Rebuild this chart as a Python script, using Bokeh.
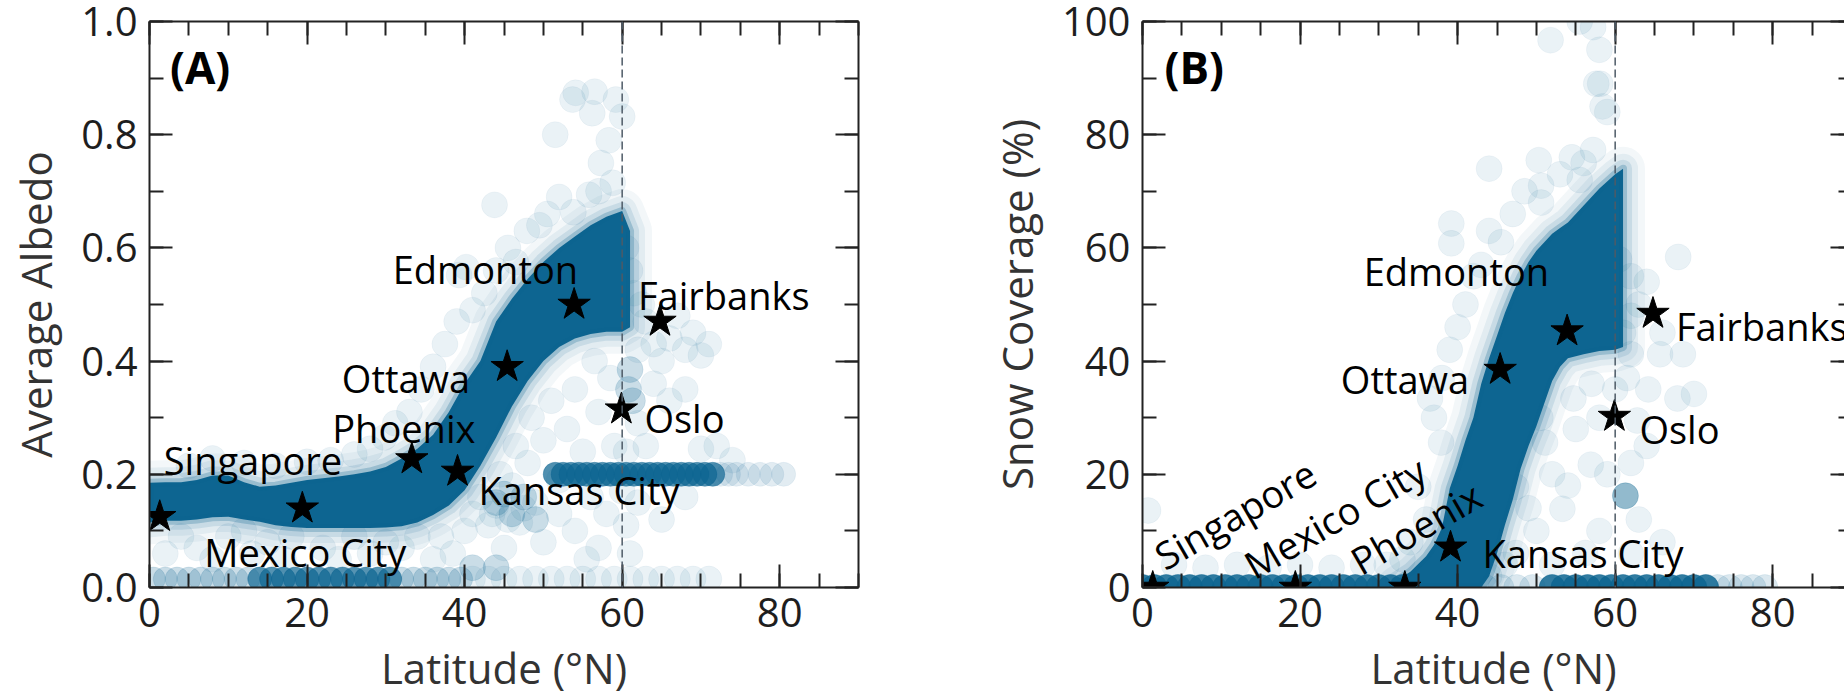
import math
from bokeh.plotting import figure
from bokeh.layouts import row
from bokeh.models import (LinearAxis, SingleIntervalTicker, Span, Label, Range1d,
                          NumeralTickFormatter, CustomJSTickFormatter)
from bokeh.embed import file_html
from bokeh.resources import INLINE

# ---------------------------------------------------------------- data
cities = ["Singapore", "Mexico City", "Phoenix", "Kansas City",
          "Ottawa", "Edmonton", "Oslo", "Fairbanks"]
city_lat = [1.3, 19.4, 33.3, 39.1, 45.4, 53.9, 59.9, 64.8]
city_albedo = [0.125, 0.14, 0.227, 0.205, 0.39, 0.50, 0.315, 0.47]
city_snow = [0.0, 0.0, 0.0, 7.1, 38.5, 45.3, 30.2, 48.4]

# (A) dense core of the albedo cloud: lower / upper edge by latitude
alb_band_lat = [0, 2, 4, 6, 8, 10, 12, 14, 16, 18, 20, 22, 24, 26, 28, 30,
                32, 34, 36, 38, 40, 42, 44, 46, 48, 50, 52, 54, 56, 58, 60, 61]
alb_band_lo = [0.115, 0.118, 0.118, 0.12, 0.124, 0.125, 0.12, 0.116, 0.11, 0.107,
               0.105, 0.105, 0.105, 0.105, 0.105, 0.106, 0.108, 0.115, 0.128, 0.145,
               0.172, 0.215, 0.265, 0.32, 0.365, 0.40, 0.425, 0.44, 0.448, 0.452,
               0.452, 0.46]
alb_band_hi = [0.185, 0.186, 0.186, 0.19, 0.198, 0.198, 0.186, 0.178, 0.18, 0.185,
               0.19, 0.193, 0.196, 0.20, 0.205, 0.213, 0.228, 0.245, 0.27, 0.31,
               0.36, 0.40, 0.47, 0.51, 0.545, 0.575, 0.60, 0.62, 0.64, 0.655,
               0.665, 0.63]

# (A) flat cluster of sites near albedo 0.2 north of 50N
alb_strip_lat = [51.5, 52.5, 53.5, 54.5, 55.5, 56.5, 57.5, 58.5, 59.5, 60.5, 61.5,
                 62.5, 63.5, 64.5, 65.5, 66.5, 67.5, 68.5, 69.5, 70.5, 71.5]
alb_strip_val = [0.20, 0.20, 0.20, 0.20, 0.20, 0.20, 0.20, 0.20, 0.20, 0.20, 0.20,
                 0.20, 0.20, 0.20, 0.20, 0.20, 0.20, 0.20, 0.20, 0.20, 0.20]
alb_tail_lat = [72.5, 73.5, 74.5, 76.0, 77.5, 79.0, 80.5]
alb_tail_val = [0.20, 0.20, 0.20, 0.20, 0.20, 0.20, 0.20]

# (A) sites with near-zero albedo
alb_floor_dense_lat = [14, 15.5, 17, 18.5, 20, 21.5, 23, 24.5, 26, 27.5, 29, 30.5]
alb_floor_dense_val = [0.015, 0.015, 0.015, 0.015, 0.015, 0.015, 0.015, 0.015,
                       0.015, 0.015, 0.015, 0.015]
alb_floor_lat = [0.5, 2, 3.5, 5, 6.5, 8, 9.5, 11, 12.5, 32, 33.5, 35, 36.5, 38, 39.5]
alb_floor_val = [0.015, 0.015, 0.015, 0.015, 0.015, 0.015, 0.015, 0.015, 0.015,
                 0.015, 0.015, 0.015, 0.015, 0.015, 0.015]

# (A) scattered individual sites
alb_sparse_lat = [54.1, 56.5, 59.2, 56.2, 51.5, 58.3, 57.3, 60.0, 53.7,
                  43.8, 39.3, 40.2, 49.5, 50.5, 47.9, 53.8, 55.8, 57.0, 58.8, 52.0,
                  45.5, 46.5, 44.0, 42.5, 41.0, 39.0, 37.5, 36.0, 34.5, 33.0, 31.2,
                  29.8, 28.0, 26.0, 23.0, 20.0, 16.0, 12.0, 8.0, 5.0,
                  60.5, 61.0, 61.5, 62.5,
                  37.0, 38.5, 40.0, 41.0, 42.0, 43.0, 44.0, 44.5, 45.0, 46.0, 46.5,
                  47.0, 48.0, 48.5, 49.0, 50.0, 50.0, 51.0, 52.0, 52.0, 53.0, 54.0,
                  54.0, 55.0, 56.0, 56.5, 57.0, 57.0, 58.0, 58.5, 59.0, 60.0, 60.5,
                  61.0, 43.5, 45.5, 47.5, 55.5,
                  62.0, 63.0, 64.0, 65.0, 66.0, 67.0, 68.0, 69.0, 70.0, 71.0, 64.0,
                  66.0, 68.0, 62.0, 63.0, 62.0, 65.0, 68.0, 70.0, 72.0, 74.0, 60.5,
                  2, 4, 6, 8, 10, 12, 13, 15, 17, 18, 22, 24, 26, 28, 30, 32, 34, 36,
                  41, 43, 45, 47, 49, 51, 53, 55, 57, 59, 61, 63, 65, 67, 69, 71]
alb_sparse_val = [0.874, 0.876, 0.862, 0.838, 0.800, 0.790, 0.750, 0.832, 0.862,
                  0.676, 0.552, 0.566, 0.640, 0.660, 0.630, 0.663, 0.694, 0.700,
                  0.715, 0.690, 0.600, 0.575, 0.560, 0.520, 0.490, 0.470, 0.430,
                  0.390, 0.350, 0.310, 0.290, 0.265, 0.245, 0.235, 0.225, 0.222,
                  0.215, 0.220, 0.228, 0.215,
                  0.600, 0.560, 0.520, 0.500,
                  0.090, 0.060, 0.100, 0.130, 0.160, 0.110, 0.145, 0.200, 0.070,
                  0.180, 0.250, 0.115, 0.220, 0.300, 0.150, 0.080, 0.260, 0.330,
                  0.130, 0.190, 0.280, 0.350, 0.100, 0.240, 0.160, 0.400, 0.070,
                  0.310, 0.130, 0.370, 0.250, 0.170, 0.110, 0.060, 0.130, 0.120,
                  0.140, 0.050,
                  0.420, 0.470, 0.430, 0.400, 0.440, 0.480, 0.420, 0.450, 0.410,
                  0.430, 0.360, 0.330, 0.350, 0.290, 0.250, 0.150, 0.120, 0.160,
                  0.245, 0.250, 0.225, 0.240,
                  0.06, 0.09, 0.07, 0.05, 0.09, 0.10, 0.06, 0.08, 0.05, 0.09, 0.07,
                  0.05, 0.09, 0.06, 0.08, 0.07, 0.09, 0.05,
                  0.015, 0.015, 0.015, 0.015, 0.015, 0.015, 0.015, 0.015, 0.015,
                  0.015, 0.015, 0.015, 0.015, 0.015, 0.015, 0.015]
alb_mid_lat = [61.0, 60.8, 61.3, 44.0, 46.0, 45.0, 47.5, 49.0, 41.0, 44.0]
alb_mid_val = [0.385, 0.350, 0.330, 0.150, 0.130, 0.165, 0.160, 0.120, 0.035, 0.035]

# (B) dense core of the snow-coverage cloud
snow_band_lat = [32, 34, 36, 37, 38, 39, 40, 41, 42, 43, 44, 45, 46, 47, 48, 49,
                 50, 51, 52, 53, 54, 56, 58, 60, 61]
snow_band_lo = [0, 0, 0, 0, 0, 0, 0, 0, 0, 0, 2.0, 6.0, 11.0, 15.5, 21.0, 25.0,
                28.5, 32.5, 36.5, 39.0, 40.5, 41.2, 41.8, 42.0, 42.5]
snow_band_hi = [1.0, 2.8, 5.5, 7.5, 10.5, 17.5, 21.5, 26.0, 30.0, 36.0, 40.5, 44.5,
                48.5, 52.0, 55.0, 57.5, 59.5, 61.0, 62.5, 63.5, 64.5, 67.5, 70.5,
                73.0, 74.0]

# (B) snow-free sites
snow_floor_dense_lat = [0, 1.5, 3, 4.5, 6, 7.5, 9, 10.5, 12, 13.5, 15, 16.5, 18,
                        19.5, 21, 22.5, 24, 25.5, 27, 28.5, 30, 31.5, 33, 34.5, 36,
                        37.5, 52, 53.5, 55, 56.5, 58, 59.5, 61, 62.5, 64, 65.5, 67,
                        68.5, 70, 71.5]
snow_floor_dense_val = [0, 0, 0, 0, 0, 0, 0, 0, 0, 0, 0, 0, 0, 0, 0, 0, 0, 0, 0,
                        0, 0, 0, 0, 0, 0, 0, 0, 0, 0, 0, 0, 0, 0, 0, 0, 0, 0, 0,
                        0, 0]
snow_floor_light_lat = [39.5, 41.5, 43.5, 45.5, 47.5, 49.5, 73, 74.5, 76, 77.5, 79]
snow_floor_light_val = [0, 0, 0, 0, 0, 0, 0, 0, 0, 0, 0]

# (B) scattered individual sites
snow_sparse_lat = [51.8, 55.5, 57.2, 58.0, 58.1, 59.0, 57.6, 58.4,
                   44.0, 50.3, 50.6, 50.6, 57.2, 56.0, 53.0, 54.5, 55.5, 39.2, 39.2,
                   44.0, 47.0, 48.5, 45.5, 42.0, 41.0, 43.0, 40.0, 39.0, 38.0, 37.0,
                   36.5, 37.9, 35.0, 36.0, 34.0, 33.0, 31.0, 28.0, 24.0, 20.0, 16.0,
                   12.0, 8.0, 4.0, 0.7, 60.5, 62.0, 68.0, 63.0, 64.0,
                   47.4, 51.1, 54.7, 53.3, 56.9, 47.4, 56.2, 50.0, 52.0, 55.0, 58.0,
                   59.0, 58.0, 52.0, 49.0, 50.5, 57.0, 60.0, 54.0, 46.0, 44.0,
                   62.0, 65.7, 68.6, 64.2, 67.9, 70.0, 62.8, 61.0, 62.0, 61.5, 66.0,
                   64.0, 62.0, 63.0, 66.0, 62.0]
snow_sparse_val = [96.7, 100.0, 99.0, 95.0, 89.0, 84.0, 89.0, 85.0,
                   74.0, 75.5, 71.0, 68.0, 77.3, 75.0, 73.0, 76.0, 72.0, 64.3, 60.8,
                   63.0, 66.0, 70.0, 61.0, 55.0, 50.0, 57.0, 46.0, 42.0, 37.0, 30.0,
                   33.4, 25.6, 17.8, 12.0, 8.0, 5.0, 4.0, 4.0, 3.5, 4.0, 3.5,
                   4.0, 3.5, 4.0, 13.6, 58.0, 55.0, 58.4, 50.0, 54.0,
                   17.8, 25.6, 33.4, 13.9, 21.7, 6.1, 6.1, 10.0, 20.0, 28.0, 30.0,
                   20.0, 10.0, 4.0, 14.0, 30.0, 36.0, 35.0, 18.0, 4.0, 2.0,
                   41.2, 41.2, 41.2, 35.0, 33.4, 34.2, 29.5, 45.0, 48.0, 37.0, 45.0,
                   25.0, 22.0, 12.0, 8.0, 6.0]
snow_mid_lat = [61.3]
snow_mid_val = [16.2]

# ---------------------------------------------------------------- style
BLUE = "#0d6591"
INK = "#222222"
FONT = "Open Sans"
FRAME_H = 566
PX_PER_DEG = 709 / 90


def make_figure(frame_w, x_end, y_end, left_border, right_border):
    p = figure(frame_width=frame_w, frame_height=FRAME_H,
               min_border_left=left_border, min_border_right=right_border,
               min_border_top=21, min_border_bottom=106,
               x_range=Range1d(0, x_end), y_range=Range1d(0, y_end),
               x_axis_type=None, y_axis_type=None,
               output_backend="svg", toolbar_location=None,
               background_fill_color="white", border_fill_color="white",
               outline_line_color=None)
    return p


def add_axes(p, y_major, y_fmt, xlabel, ylabel, partial_right=False):
    axes = {
        "below": LinearAxis(ticker=SingleIntervalTicker(interval=20, num_minor_ticks=4),
                            axis_label=xlabel, formatter=NumeralTickFormatter(format="0")),
        "left": LinearAxis(ticker=SingleIntervalTicker(interval=y_major, num_minor_ticks=2),
                           axis_label=ylabel, formatter=NumeralTickFormatter(format=y_fmt)),
        "above": LinearAxis(ticker=SingleIntervalTicker(interval=20, num_minor_ticks=4)),
        "right": LinearAxis(ticker=SingleIntervalTicker(interval=y_major, num_minor_ticks=2)),
    }
    for loc, ax in axes.items():
        ax.major_tick_in = 23
        ax.major_tick_out = 0
        ax.minor_tick_in = 14
        ax.minor_tick_out = 0
        ax.major_tick_line_width = 2
        ax.minor_tick_line_width = 2
        ax.major_tick_line_color = INK
        ax.minor_tick_line_color = INK
        ax.axis_line_color = INK
        ax.axis_line_width = 2
        ax.major_label_text_font = FONT
        ax.major_label_text_font_size = "40px"
        ax.major_label_text_color = "#1e1e1e"
        ax.axis_label_text_font = FONT
        ax.axis_label_text_font_size = "42px"
        ax.axis_label_text_font_style = "normal"
        ax.axis_label_text_color = "#333333"
        if loc in ("above", "right"):
            # mirrored frame ticks only, no numbers
            ax.formatter = CustomJSTickFormatter(code="return ''")
            ax.major_label_text_font_size = "1px"
            ax.major_label_standoff = 0
    axes["below"].major_label_standoff = 10
    axes["below"].axis_label_standoff = 9
    axes["left"].major_label_standoff = 12
    axes["left"].axis_label_standoff = 14
    if partial_right:
        # the right frame edge lies just past the page edge; only tick stubs show
        axes["right"].axis_line_color = None
        axes["right"].major_tick_in = 14
        axes["right"].minor_tick_in = 6
    for loc, ax in axes.items():
        p.add_layout(ax, loc)


def dots(p, xs, ys, alpha, size=26):
    p.scatter(xs, ys, size=size, marker="circle", fill_color=BLUE, fill_alpha=alpha,
              line_color=BLUE, line_alpha=alpha * 0.5)


def cloud(p, lat, lo, hi):
    xs = lat + lat[::-1]
    ys = lo + hi[::-1]
    # soft fringe from progressively narrower translucent outlines
    for width, alpha in ((44, 0.05), (30, 0.07), (18, 0.12)):
        p.patch(xs, ys, fill_alpha=0, line_color=BLUE, line_alpha=alpha,
                line_width=width, line_join="round")
    p.patch(xs, ys, fill_color=BLUE, fill_alpha=1.0, line_color=BLUE,
            line_alpha=0.25, line_width=8, line_join="round")


def city_labels(p, ys, placement, size="38px"):
    for name, lat, val, (dx, dy, align, angle) in zip(cities, city_lat, ys, placement):
        p.add_layout(Label(x=lat, y=val, text=name, x_offset=dx, y_offset=dy,
                           text_align=align, text_baseline="alphabetic",
                           angle=math.radians(angle), text_font=FONT,
                           text_font_size=size, text_color="black"))


def marker_line(p):
    p.add_layout(Span(location=60, dimension="height", line_color="#4d5a66",
                      line_width=1.5, line_dash="8 4"))


# ---------------------------------------------------------------- panel A
pa = make_figure(709, 90, 1.0, 149, 82)
add_axes(pa, 0.2, "0.0", "Latitude (°N)", "Average Albedo")
dots(pa, alb_sparse_lat, alb_sparse_val, 0.085)
dots(pa, alb_mid_lat, alb_mid_val, 0.22)
dots(pa, alb_floor_lat, alb_floor_val, 0.22, size=24)
dots(pa, alb_floor_dense_lat, alb_floor_dense_val, 0.7, size=24)
cloud(pa, alb_band_lat, alb_band_lo, alb_band_hi)
dots(pa, alb_strip_lat, alb_strip_val, 0.72, size=24)
dots(pa, alb_tail_lat, alb_tail_val, 0.12, size=24)
marker_line(pa)
pa.scatter(city_lat, city_albedo, marker="star", size=34, color="black")
city_labels(pa, city_albedo, [
    (4, 57, "left", 0),        # Singapore
    (3, -44, "center", 0),     # Mexico City
    (-8, 31, "center", 0),     # Phoenix
    (21, -19, "left", 0),      # Kansas City
    (-37, -11, "right", 0),    # Ottawa
    (4, 36, "right", 0),       # Edmonton
    (23, -9, "left", 0),       # Oslo
    (-22, 26, "left", 0),      # Fairbanks
])
pa.add_layout(Label(x=2.6, y=0.92, text="(A)", text_font=FONT, text_font_size="44px",
                    text_font_style="bold", text_baseline="middle", text_color="black"))

# ---------------------------------------------------------------- panel B
pb = make_figure(702, 702 / PX_PER_DEG, 100, 202, 0)
add_axes(pb, 20, "0", "Latitude (°N)", "Snow Coverage (%)", partial_right=True)
dots(pb, snow_sparse_lat, snow_sparse_val, 0.085)
dots(pb, snow_mid_lat, snow_mid_val, 0.45)
dots(pb, snow_floor_light_lat, snow_floor_light_val, 0.15)
dots(pb, snow_floor_dense_lat, snow_floor_dense_val, 0.85)
cloud(pb, snow_band_lat, snow_band_lo, snow_band_hi)
marker_line(pb)
pb.scatter(city_lat, city_snow, marker="star", size=34, color="black")
city_labels(pb, city_snow, [
    (5, 29, "left", 30),       # Singapore
    (-48, 20, "left", 30),     # Mexico City
    (-51, 24, "left", 30),     # Phoenix
    (32, -6, "left", 0),       # Kansas City
    (-31, -9, "right", 0),     # Ottawa
    (-18, 60, "right", 0),     # Edmonton
    (25, -12, "left", 0),      # Oslo
    (23, -12, "left", 0),      # Fairbanks
])
pb.add_layout(Label(x=2.8, y=92, text="(B)", text_font=FONT, text_font_size="44px",
                    text_font_style="bold", text_baseline="middle", text_color="black"))

layout = row(pa, pb)
open("out.html", "w").write(file_html(layout, INLINE))
